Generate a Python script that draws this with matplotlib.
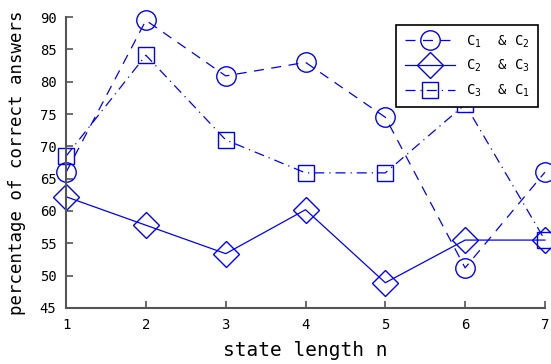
import matplotlib
matplotlib.use('Agg')
import matplotlib.pyplot as plt

plt.rcParams['font.family'] = ['DejaVu Sans Mono']
plt.rcParams['mathtext.fontset'] = 'custom'
plt.rcParams['mathtext.rm'] = 'DejaVu Sans Mono'
plt.rcParams['mathtext.it'] = 'DejaVu Sans Mono'

state_len = [1, 2, 3, 4, 5, 6, 7]
c1_c2 = [66.0, 89.5, 80.9, 83.0, 74.5, 51.2, 66.0]
c2_c3 = [62.2, 57.8, 53.4, 60.2, 48.9, 55.5, 55.5]
c3_c1 = [68.5, 84.1, 71.0, 65.9, 65.9, 76.5, 55.5]
labels = [r'C$_1$  & C$_2$', r'C$_2$  & C$_3$', r'C$_3$  & C$_1$']

blue = '#0000ff'
fig = plt.figure(figsize=(5.51, 3.64), dpi=100)
ax = fig.add_axes([0.12, 0.154, 0.869, 0.799])

# dashed circles, solid diamonds, dash-dot squares
ax.plot(state_len, c1_c2, color=blue, lw=0.9, ls=(0, (8, 6)), marker='o', ms=14,
        mfc='none', mec=blue, mew=1.0, label=labels[0], clip_on=False)
ax.plot(state_len, c2_c3, color=blue, lw=0.9, ls='-', marker='D', ms=13,
        mfc='none', mec=blue, mew=1.0, label=labels[1], clip_on=False)
ax.plot(state_len, c3_c1, color=blue, lw=0.9, ls=(0, (8, 4, 1, 4)), marker='s', ms=11,
        mfc='none', mec=blue, mew=1.0, label=labels[2], clip_on=False)

ax.set_xlim(1, 7)
ax.set_ylim(45, 90)
ax.set_xticks(state_len)
ax.set_yticks(range(45, 91, 5))
for s in ['top', 'right']:
    ax.spines[s].set_visible(False)
for s in ['left', 'bottom']:
    ax.spines[s].set_color('#555555')
    ax.spines[s].set_linewidth(1.5)
ax.tick_params(direction='in', length=5, width=1.2, color='#555555', labelsize=10, pad=7)

ax.set_xlabel('state length n', fontsize=14, labelpad=7)
ax.set_ylabel('percentage of correct answers', fontsize=12.5, labelpad=10)

leg = ax.legend(loc='upper right', bbox_to_anchor=(0.985, 0.973), borderaxespad=0,
                fancybox=False, edgecolor='black', framealpha=1, fontsize=10,
                handlelength=3.6, borderpad=0.6, labelspacing=0.6)
leg.get_frame().set_linewidth(1.2)

fig.savefig('out.png', dpi=100)
